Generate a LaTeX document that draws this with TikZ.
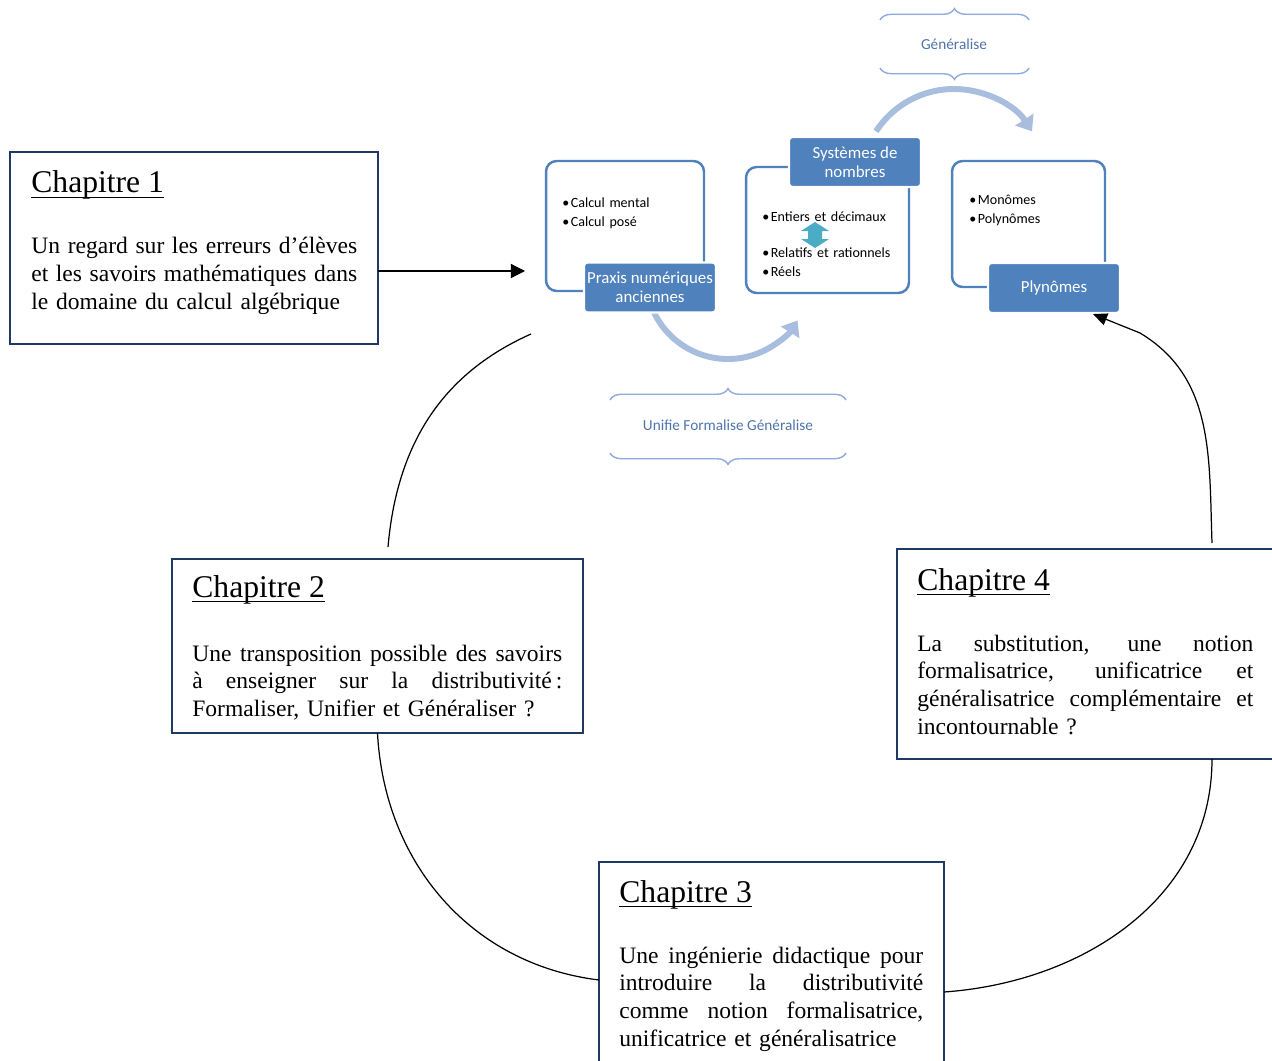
\documentclass[tikz,border=0pt]{standalone}
\usepackage{fontspec}
\setmainfont{Liberation Serif}
\newfontfamily\artfont{Carlito}
\usepackage{tikz}
\usetikzlibrary{arrows.meta}
\usetikzlibrary{decorations.pathreplacing}

\definecolor{navy}{HTML}{1F3864}
\definecolor{artblue}{HTML}{4F81BD}
\definecolor{paleblue}{HTML}{A9BDDE}
\definecolor{bracecol}{HTML}{8FAADC}
\definecolor{bracetxt}{HTML}{4D74AA}
\definecolor{arrowteal}{HTML}{4BACC6}

\newcommand{\jl}[2]{\leavevmode\hbox to #1{\spaceskip=\fontdimen2\font plus 1fil\relax #2}}
\newcommand{\itm}[1]{\makebox[0.17cm][l]{\textbullet}#1}

\tikzset{
  chapbox/.style={draw=navy,line width=1.1pt,inner sep=0pt,outer sep=0pt},
  chaphead/.style={anchor=base west,inner sep=0pt,font=\fontsize{18}{22}\selectfont},
  chapbody/.style={anchor=base west,inner sep=0pt,font=\fontsize{13.4}{15.9}\selectfont},
  link/.style={line width=0.7pt},
  listbox/.style={draw=artblue,line width=1.4pt,fill=white,rounded corners=6pt,inner sep=0pt},
  tagbox/.style={fill=artblue,draw=white,line width=1.2pt,rounded corners=2pt,text=white,
    minimum width=2.64cm,minimum height=1cm,align=center,inner sep=0pt,
    font=\artfont\fontsize{9.6}{10.8}\selectfont},
  items/.style={anchor=base west,inner sep=0pt,text width=3cm,
    font=\artfont\fontsize{8}{10.8}\selectfont},
  swoop/.style={draw=paleblue,line width=3.4pt,-{Triangle[length=8pt,width=12pt]}},
  curly/.style={draw=bracecol,line width=0.8pt,decorate,decoration={brace,amplitude=6.5pt}},
  curlytext/.style={text=bracetxt,font=\artfont\fontsize{8.7}{10}\selectfont}
}

\begin{document}
\begin{tikzpicture}[x=0.02cm,y=-0.02cm]
\useasboundingbox (0,0) rectangle (1272,1061);

\node[chapbox,minimum width=7.36cm,minimum height=3.84cm] (ch1) at (194,248) {};
\node[chapbox,minimum width=8.22cm,minimum height=3.48cm] (ch2) at (377.5,646) {};
\node[chapbox,minimum width=6.9cm,minimum height=4.16cm] (ch3) at (771.5,966) {};
\node[chapbox,minimum width=7.7cm,minimum height=4.2cm] (ch4) at (1089.5,654) {};

\node[chaphead] (h1) at (31,193) {Chapitre 1};
\node[chaphead] (h2) at (192,597) {Chapitre 2};
\node[chaphead] (h3) at (619,902) {Chapitre 3};
\node[chaphead] (h4) at (917,590) {Chapitre 4};
\foreach \h in {h1,h2,h3,h4}
  \draw[line width=0.7pt] ([yshift=-2.6pt]\h.base west) -- ([yshift=-2.6pt]\h.base east);

\node[chapbody,text width=6.52cm] (t1) at (31,254)
  {\jl{6.52cm}{Un regard sur les erreurs d’élèves}\\\jl{6.52cm}{et les savoirs mathématiques dans}\\le domaine du calcul algébrique};
\node[chapbody,text width=7.4cm] (t2) at (192,661)
  {\jl{7.4cm}{Une transposition possible des savoirs}\\\jl{7.4cm}{à enseigner sur la distributivité\,:}\\Formaliser, Unifier et Généraliser ?};
\node[chapbody,text width=6.08cm] (t3) at (619,963)
  {\jl{6.08cm}{Une ingénierie didactique pour}\\\jl{6.08cm}{introduire la distributivité}\\\jl{6.08cm}{comme notion formalisatrice,}\\unificatrice et généralisatrice};
\node[chapbody,text width=6.72cm] (t4) at (917,651)
  {\jl{6.72cm}{La substitution, une notion}\\\jl{6.72cm}{formalisatrice, unificatrice et}\\\jl{6.72cm}{généralisatrice complémentaire et}\\incontournable ?};

\node[listbox,minimum width=3.16cm,minimum height=2.6cm] (boxa) at (625,226) {};
\node[listbox,minimum width=3.26cm,minimum height=2.52cm] (boxb) at (827.5,230) {};
\node[listbox,minimum width=3.06cm,minimum height=2.52cm] (boxc) at (1028.5,224) {};

\draw[swoop] (728,277) ++(155:82) arc[start angle=155,end angle=32,radius=82];
\draw[swoop] (954,182) ++(213:93) arc[start angle=213,end angle=327,radius=93];

\node[tagbox] (praxis) at (650,287.5) {Praxis numériques\\anciennes};
\node[tagbox] (systemes) at (855,162) {Systèmes de\\nombres};
\node[tagbox] (plyn) at (1054,288) {Plynômes};

\node[items] (lista) at (562,208) {\itm{Calcul mental}\\\itm{Calcul posé}};
\node[items] (listb) at (762,221) {\itm{Entiers et décimaux}\\[10.2pt]\itm{Relatifs et rationnels}\\\itm{Réels}};
\node[items] (listc) at (969,205) {\itm{Monômes}\\\itm{Polynômes}};

\fill[arrowteal] (815,222) -- (829,231) -- (822,231) -- (822,239) -- (829,239) -- (815,248)
  -- (801,239) -- (808,239) -- (808,231) -- (801,231) -- cycle;

\draw[curly] (880,20) -- (1029,20);
\draw[curly] (1029,68) -- (880,68);
\node[curlytext] (gen) at (954,44) {Généralise};
\draw[curly] (610,400) -- (846,400);
\draw[curly] (846,453) -- (610,453);
\node[curlytext] (ufg) at (728,425) {Unifie Formalise Généralise};

\coordinate (in1) at (525,271);
\coordinate (up2) at (388,547);
\coordinate (end2) at (531,334);
\coordinate (up4) at (1212,543);
\coordinate (bend4) at (1140,333);

\draw[link,-{Triangle[length=8pt,width=8pt]}] (ch1.east |- in1) -- (in1);
\draw[link] (up2) to[out=85,in=204] (end2);
\draw[link] (ch2.south) to[out=-87,in=173] (ch3.west |- 0,980);
\draw[link] (ch3.east |- 0,992) to[out=4,in=-90] (ch4.south -| up4);
\draw[link,-{Triangle[length=8pt,width=7pt]}] (up4) to[out=92,in=-31] (bend4) -- (plyn.south -| 1093,0);

\end{tikzpicture}
\end{document}
